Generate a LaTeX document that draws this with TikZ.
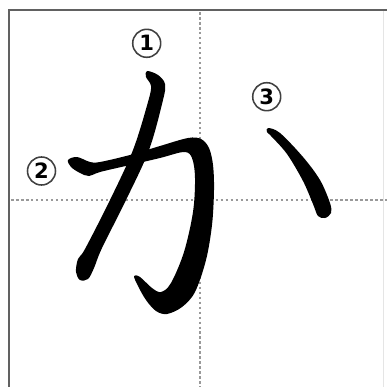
\documentclass[tikz,border=0pt]{standalone}
\usepackage{fontspec}
\setsansfont{DejaVu Sans}
\usetikzlibrary{positioning}
\definecolor{ink}{gray}{0.0}
\definecolor{frame}{gray}{0.38}
\definecolor{guide}{gray}{0.6}

\begin{document}
\begin{tikzpicture}[x=0.025cm, y=-0.025cm,
  strokenum/.style={circle, draw=black!75, line width=1.1pt, minimum size=0.7cm,
    inner sep=0pt, font=\fontsize{15}{15}\selectfont\sffamily\bfseries},
  guideline/.style={draw=guide, line width=1.8pt, dash pattern=on 1.8pt off 1.75pt},
]
\useasboundingbox (0,0) rectangle (387,387);
\fill[white] (0,0) rectangle (387,387);

% practice box: only the top and left edges are in view
\draw[guideline] (200,12) -- (200,387);
\draw[guideline] (11,200) -- (387,200);
\draw[draw=black!10, line width=.6pt] (383,11) -- (383,387);
\draw[draw=frame, line width=1.5pt] (9,387) -- (9,10) -- (387,10);

% stroke 1: the long falling stroke
\fill[ink] plot[smooth cycle, tension=0.55] coordinates {
  (147,71) (158,75) (165,84) (163,100) (149,150) (126,200) (102,248)
  (94,268) (88,279) (80,280) (76,272) (78,259) (85,249) (110,200)
  (133,150) (148,102) (151,86) (146,77)};

% stroke 2: the bar that turns down and hooks back
\fill[ink] plot[smooth cycle, tension=0.55] coordinates {
  (68,160) (77,157) (90,162) (100,162) (130,155) (160,146) (188,138)
  (201,139) (209,148) (213,165) (214,190) (212,225) (206,260) (195,292)
  (182,307) (167,314) (156,311) (146,300) (138,286) (134,276) (140,277)
  (152,288) (161,292) (171,283) (184,252) (193,212) (195,178) (192,158)
  (184,152) (160,158) (130,165) (100,172) (89,176) (80,173) (71,167)};

% stroke 3: the short mark on the right
\fill[ink] plot[smooth cycle, tension=0.55] coordinates {
  (268,128) (280,133) (303,157) (320,180) (330,203) (331,213) (325,218)
  (318,216) (313,204) (303,181) (287,154) (271,136) (267,132)};

% stroke order numbers
\node[strokenum] (num1) at (146.7,43.3) {1};
\node[strokenum] (num2) at (41.5,171) {2};
\node[strokenum] (num3) at (266.7,96.7) {3};
\end{tikzpicture}
\end{document}
